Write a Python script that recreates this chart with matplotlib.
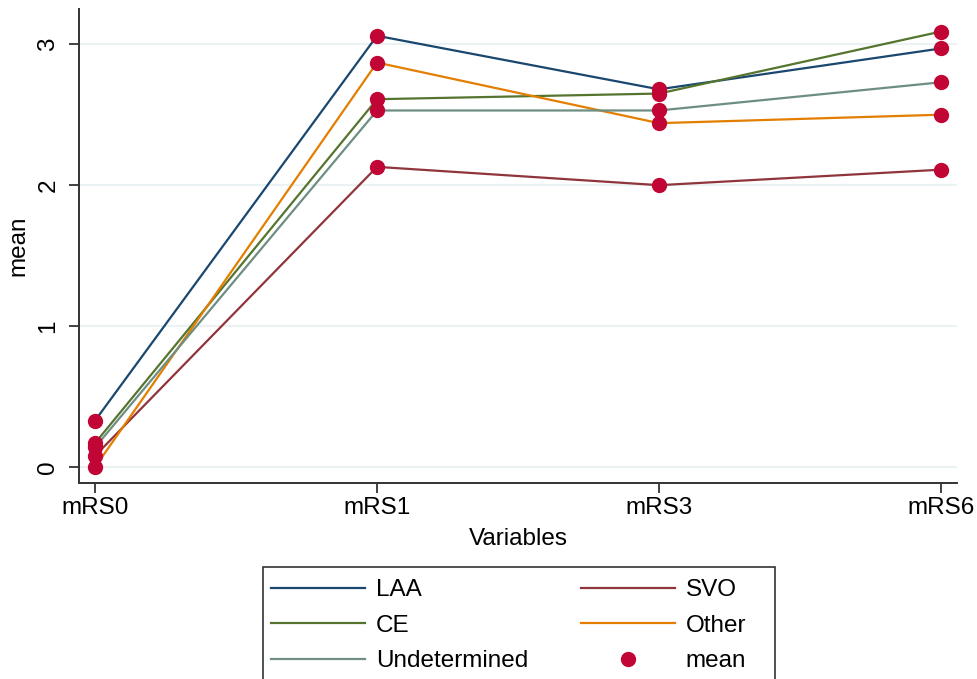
import matplotlib
matplotlib.use("Agg")
import matplotlib.pyplot as plt
from matplotlib.lines import Line2D
from matplotlib.patches import Rectangle

plt.rcParams['font.family'] = ['Liberation Sans', 'DejaVu Sans']

categories = ["mRS0", "mRS1", "mRS3", "mRS6"]
groups = ["LAA", "SVO", "CE", "Other", "Undetermined"]
laa = [0.33, 3.06, 2.68, 2.97]
svo = [0.08, 2.13, 2.00, 2.11]
ce = [0.17, 2.61, 2.65, 3.09]
other = [0.00, 2.87, 2.44, 2.50]
undet = [0.14, 2.53, 2.53, 2.73]
series = [laa, svo, ce, other, undet]
colors = ["#1a476f", "#90353b", "#55752f", "#e37e00", "#6e8e84"]
mean_color = "#c10534"
yticks = [0, 1, 2, 3]

FS = 17.5
fig = plt.figure(figsize=(9.78, 6.79), dpi=100)
ax = fig.add_axes([79/978, 1-483/679, (957-79)/978, (483-9)/679])
x = list(range(len(categories)))
handles = {}
for name, vals, c in zip(groups, series, colors):
    h, = ax.plot(x, vals, color=c, lw=1.6, zorder=2)
    handles[name] = h
for vals in series:
    ax.plot(x, vals, 'o', color=mean_color, ms=10, mec=mean_color, zorder=3)
mh = Line2D([], [], marker='o', ls='none', color=mean_color, ms=10)

ax.set_xlim(-0.057, 3.057)
ax.set_ylim(-0.113, 3.25)
ax.set_xticks(x)
ax.set_xticklabels(categories, fontsize=FS)
ax.set_yticks(yticks)
ax.set_yticklabels([str(t) for t in yticks], fontsize=FS, rotation=90, va='center')
ax.grid(axis='y', color='#eaf2f3', lw=1.5, zorder=0)
ax.set_axisbelow(True)
for s in ['top', 'right']:
    ax.spines[s].set_visible(False)
for s in ['left', 'bottom']:
    ax.spines[s].set_color('#333333')
    ax.spines[s].set_linewidth(1.4)
ax.tick_params(axis='x', length=7.2, width=1.3, color='#333333', labelcolor='black', pad=3)
ax.tick_params(axis='y', length=7.2, width=1.3, color='#333333', labelcolor='black', pad=7)
ax.set_xlabel("Variables", fontsize=FS, labelpad=6.5)
ax.set_ylabel("mean", fontsize=FS, labelpad=6)

order = [handles["LAA"], handles["CE"], handles["Undetermined"], handles["SVO"], handles["Other"], mh]
labels = ["LAA", "CE", "Undetermined", "SVO", "Other", "mean"]
top = 1 - 567/679
leg = fig.legend(order, labels, ncol=2, loc='upper left',
                 bbox_to_anchor=(259/978, top),
                 fontsize=FS, frameon=False,
                 handlelength=3.87, handletextpad=0.45,
                 columnspacing=2.15, labelspacing=0.56, borderpad=0.5,
                 borderaxespad=0)
frame = Rectangle((263/978, -0.05), (775-263)/978, top + 0.05,
                  transform=fig.transFigure, fill=False, edgecolor='#333333',
                  lw=1.2, clip_on=False)
fig.patches.append(frame)
fig.savefig("out.png", dpi=100)
